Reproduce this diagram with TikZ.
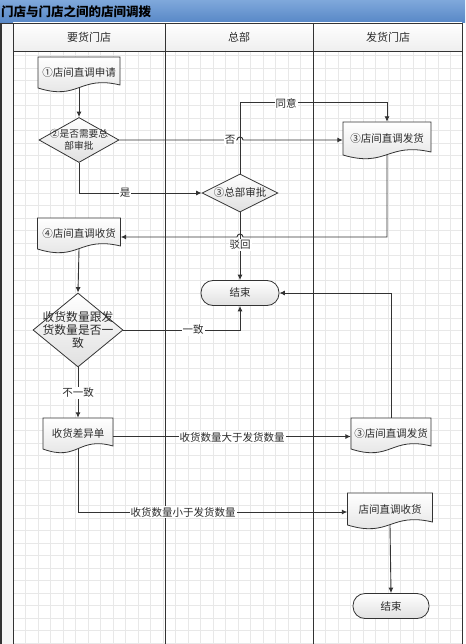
\documentclass[tikz,border=0pt]{standalone}
\usepackage{fontspec}
\setmainfont{Noto Sans CJK SC}
\usetikzlibrary{shapes.geometric,arrows.meta,calc}
\definecolor{lineC}{HTML}{333333}
\definecolor{gridC}{HTML}{E8E8E8}
\definecolor{barTop}{HTML}{7FA8DB}
\definecolor{barBot}{HTML}{5787C6}
\definecolor{shapeBot}{HTML}{E0E0E0}
\definecolor{txtC}{HTML}{2B2B2B}
\tikzset{
  conn/.style={draw=lineC, line width=0.9pt, -{Latex[length=5.5pt,width=5pt]}},
  lbl/.style={fill=white, inner sep=1pt, font=\fontsize{10.5}{12}\selectfont, text=txtC},
  shp/.style={draw=lineC, line width=0.8pt, top color=white, bottom color=shapeBot},
  txt/.style={font=\fontsize{10.5}{13}\selectfont, align=center, text=txtC, inner sep=0pt},
  dia/.style={shape=diamond, shp, inner sep=0pt},
  term/.style={shp, rounded corners=12pt, inner sep=0pt, txt, minimum width=78, minimum height=25},
  frameline/.style={draw=lineC, line width=0.9pt},
  hdr/.style={font=\fontsize{11}{13}\selectfont, text=txtC, inner sep=0pt},
}
\newcommand\docnode[6]{%
  \path[shp] ({#2-#5/2},-#3) -- ({#2+#5/2},-#3) -- ({#2+#5/2},{-#4+3})
     .. controls (#2,{-#4+13}) and (#2,{-#4-13}) .. ({#2-#5/2},-#4) -- cycle;
  \node[txt, minimum width=#5, minimum height={#4-#3}] (#1) at (#2,{-(#3+#4)/2}) {#6};
}
\begin{document}
\begin{tikzpicture}[x=1pt,y=1pt]
\useasboundingbox (0,0) rectangle (465,-644);
% title bar
\path[top color=barTop, bottom color=barBot] (0,0) rectangle (465,-23);
\node[anchor=west, font=\fontsize{12.5}{14}\selectfont\bfseries, inner sep=0pt, text=black] (title) at (1,-12) {门店与门店之间的店间调拨};
% left column and header
\fill[gray!7] (1,-23) rectangle (13,-644);
\path[top color=white, bottom color=gray!13] (13,-23) rectangle (462,-51);
% grid
\foreach \gx in {25.5,38,...,462} \draw[gridC, line width=0.5pt] (\gx,-51) -- (\gx,-644);
\foreach \gy in {55.7,68.2,...,644} \draw[gridC, line width=0.5pt] (13,-\gy) -- (462,-\gy);
% frame
\draw[frameline, line width=1.6pt] (1,-23) -- (1,-644);
\draw[frameline] (1,-23) -- (462,-23);
\draw[frameline] (13,-51) -- (462,-51);
\foreach \lx in {13,165,313,462} \draw[frameline] (\lx,-23) -- (\lx,-644);
\node[hdr] (h1) at (89,-37) {要货门店};
\node[hdr] (h2) at (239,-37) {总部};
\node[hdr] (h3) at (388,-37) {发货门店};
% shapes
\docnode{a1}{79}{57}{88}{82}{①店间直调申请}
\node[dia, minimum width=80, minimum height=45,
  label={[txt, font=\fontsize{9.7}{12.3}\selectfont]center:{②是否需要总\\部审批}}] (d1) at (79,-140) {};
\node[dia, minimum width=76, minimum height=38,
  label={[txt]center:{③总部审批}}] (d2) at (240,-193) {};
\docnode{f1}{387}{122}{155}{88}{③店间直调发货}
\docnode{r1}{79}{218}{249}{83}{④店间直调收货}
\node[dia, minimum width=90, minimum height=74,
  label={[txt, font=\fontsize{11.8}{13.2}\selectfont]center:{收货数量跟发\\货数量是否一\\致}}] (d3) at (78,-330) {};
\node[term] (e1) at (240,-293) {结束};
\docnode{c1}{78}{418}{449}{70}{收货差异单}
\docnode{f2}{391}{418}{449}{80}{③店间直调发货}
\docnode{r2}{390}{493}{525}{85}{店间直调收货}
\node[term, minimum width=76] (e2) at (391,-606) {结束};
% connectors
\draw[conn] (a1.south) -- (d1.north);
\draw[conn] (d1.east) -- (237,-140) arc[start angle=180,end angle=0,radius=3] -- (d1.east -| f1.west);
\draw[conn] (d1.south) |- (d2.west);
\draw[conn] (d2.north) -- ++(0,71) -| (f1.north);
\draw[conn] (f1.south) -- (f1.south |- 0,-237) -- (243,-237) arc[start angle=0,end angle=180,radius=3] -- (r1.east |- 0,-237);
\draw[conn] (d2.south) -- (e1.north);
\draw[conn] (d3.east) -| (e1.south);
\draw[conn] (f2.north) |- (e1.east);
\draw[conn] (r1.south) -- (d3.north);
\draw[conn] (d3.south) -- (c1.north);
\coordinate (c1e) at ($(c1.east)+(0,-3)$);
\draw[conn] (c1e) -- (c1e -| f2.west);
\coordinate (r2w) at ($(r2.west)+(0,-3)$);
\draw[conn] (c1.south) |- (r2w);
\draw[conn] (r2.south) -- (e2.north);
% labels
\node[lbl] (l1) at (230,-140) {否};
\node[lbl] (l2) at (125,-193) {是};
\node[lbl] (l3) at (286,-103) {同意};
\node[lbl] (l4) at (240,-245) {驳回};
\node[lbl] (l5) at (193,-330) {一致};
\node[lbl] (l6) at (78,-393) {不一致};
\node[lbl] (l7) at (232,-437) {收货数量大于发货数量};
\node[lbl] (l8) at (183,-512) {收货数量小于发货数量};
\end{tikzpicture}
\end{document}
